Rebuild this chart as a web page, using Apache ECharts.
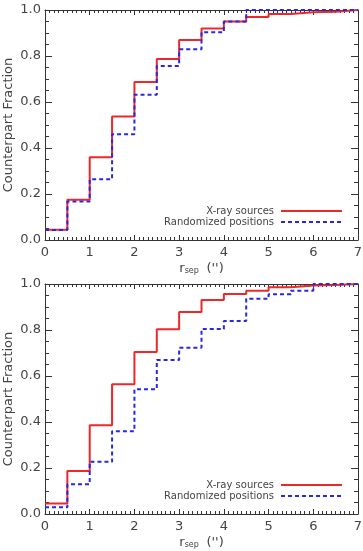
<!DOCTYPE html>
<html>
<head>
<meta charset="utf-8">
<script src="https://cdn.jsdelivr.net/npm/echarts@6/dist/echarts.min.js"></script>
<style>
  html, body { margin: 0; padding: 0; background: #fff; }
  #chart { width: 363px; height: 551px; }
</style>
</head>
<body>
<div id="chart"></div>
<script>
// bin edges in arcsec, each value holds from its edge to the next
var binEdges = [0, 0.5, 1, 1.5, 2, 2.5, 3, 3.5, 4, 4.5, 5, 5.5, 6, 6.5, 7]

// upper panel
var topXray = [0.045, 0.175, 0.36, 0.537, 0.687, 0.787, 0.87, 0.92, 0.95, 0.97, 0.983, 0.99, 0.992, 1.0]
var topRandom = [0.043, 0.167, 0.264, 0.46, 0.632, 0.757, 0.829, 0.903, 0.95, 1.0, 1.0, 1.0, 1.0, 1.0]

// lower panel
var botXray = [0.046, 0.187, 0.386, 0.564, 0.704, 0.803, 0.878, 0.93, 0.957, 0.971, 0.986, 0.993, 0.996, 1.0]
var botRandom = [0.029, 0.129, 0.227, 0.36, 0.542, 0.67, 0.723, 0.804, 0.839, 0.936, 0.955, 0.971, 1.0, 1.0]

var xTicks = [0, 1, 2, 3, 4, 5, 6, 7]
var legendNames = ['X-ray sources', 'Randomized positions']

var FONT = 'DejaVu Sans'
var TEXT = '#444'
var FRAME = '#333'
var RED = 'rgb(238, 40, 40)'
var BLUE = 'rgb(40, 40, 225)'

// step data: last value is repeated at the final edge
function steps(vals) {
  var out = vals.map(function (v, i) { return [binEdges[i], v] })
  out.push([binEdges[binEdges.length - 1], vals[vals.length - 1]])
  return out
}

var chart = echarts.init(document.getElementById('chart'), null, { renderer: 'canvas' })

var grids = [
  { left: 45, top: 10, width: 313, height: 230, outerBoundsMode: 'none', containLabel: false },
  { left: 45, top: 284, width: 313, height: 230, outerBoundsMode: 'none', containLabel: false }
]

var xAxes = []
var yAxes = []
grids.forEach(function (g, i) {
  // bottom x axis with labels
  xAxes.push({
    gridIndex: i, type: 'value', min: 0, max: 7, interval: 1, position: 'bottom',
    axisLine: { show: true, onZero: false, lineStyle: { color: FRAME, width: 1 } },
    axisTick: { show: true, inside: true, length: 5, lineStyle: { color: FRAME } },
    minorTick: { show: true, splitNumber: 10, length: 3, lineStyle: { color: FRAME } },
    splitLine: { show: false },
    axisLabel: { show: true, margin: 6, color: TEXT, fontFamily: FONT, fontSize: 13,
      formatter: function (v) { return xTicks.indexOf(v) >= 0 ? String(v) : '' } },
    name: '{r|r}{s|sep}  {u|(\'\')}',
    nameLocation: 'middle', nameGap: 19, nameMoveOverlap: false,
    nameTextStyle: {
      color: TEXT, fontFamily: FONT,
      rich: {
        r: { fontSize: 13, fontFamily: FONT, color: TEXT, verticalAlign: 'bottom' },
        s: { fontSize: 8, fontFamily: FONT, color: TEXT, padding: [8, 0, 0, 0], verticalAlign: 'bottom' },
        u: { fontSize: 13, fontFamily: FONT, color: TEXT, verticalAlign: 'bottom' }
      }
    }
  })
  // top x axis, frame only
  xAxes.push({
    gridIndex: i, type: 'value', min: 0, max: 7, interval: 1, position: 'top',
    axisLine: { show: true, onZero: false, lineStyle: { color: FRAME, width: 1 } },
    axisTick: { show: true, inside: true, length: 5, lineStyle: { color: FRAME } },
    minorTick: { show: true, splitNumber: 10, length: 3, lineStyle: { color: FRAME } },
    splitLine: { show: false },
    axisLabel: { show: false }
  })
  yAxes.push({
    gridIndex: i, type: 'value', min: 0, max: 1, interval: 0.2, position: 'left',
    axisLine: { show: true, onZero: false, lineStyle: { color: FRAME, width: 1 } },
    axisTick: { show: true, inside: true, length: 7, lineStyle: { color: FRAME } },
    minorTick: { show: true, splitNumber: 4, length: 4, lineStyle: { color: FRAME } },
    splitLine: { show: false },
    axisLabel: { show: true, margin: 4, color: TEXT, fontFamily: FONT, fontSize: 13,
      formatter: function (v) { return v.toFixed(1) } },
    name: 'Counterpart Fraction',
    nameLocation: 'middle', nameGap: 30, nameRotate: 90, nameMoveOverlap: false,
    nameTextStyle: { color: TEXT, fontFamily: FONT, fontSize: 13 }
  })
  yAxes.push({
    gridIndex: i, type: 'value', min: 0, max: 1, interval: 0.2, position: 'right',
    axisLine: { show: true, onZero: false, lineStyle: { color: FRAME, width: 1 } },
    axisTick: { show: true, inside: true, length: 7, lineStyle: { color: FRAME } },
    minorTick: { show: true, splitNumber: 4, length: 4, lineStyle: { color: FRAME } },
    splitLine: { show: false },
    axisLabel: { show: false }
  })
})

function stepSeries(name, vals, panel, color, dashed) {
  return {
    name: name, type: 'line', step: 'end',
    xAxisIndex: panel * 2, yAxisIndex: panel * 2,
    data: steps(vals), showSymbol: false, symbol: 'none',
    silent: true, animation: false,
    lineStyle: { color: color, width: 2, type: dashed ? [4, 3] : 'solid' },
    itemStyle: { color: color }
  }
}

var series = [
  stepSeries(legendNames[0], topXray, 0, RED, false),
  stepSeries(legendNames[1], topRandom, 0, BLUE, true),
  stepSeries(legendNames[0], botXray, 1, RED, false),
  stepSeries(legendNames[1], botRandom, 1, BLUE, true)
]

// legend drawn by hand, lower right inside each panel
function legendBlock(rowY) {
  var items = []
  var styles = [{ stroke: RED, lineWidth: 2 }, { stroke: BLUE, lineWidth: 2, lineDash: [4, 3] }]
  legendNames.forEach(function (n, k) {
    var y = rowY + k * 11
    items.push({
      type: 'text', silent: true,
      style: { text: n, x: 274, y: y, align: 'right', verticalAlign: 'middle',
        fill: TEXT, font: '10px "' + FONT + '"' }
    })
    items.push({
      type: 'line', silent: true,
      shape: { x1: 281, y1: y, x2: 342, y2: y },
      style: styles[k]
    })
  })
  return items
}

chart.setOption({
  backgroundColor: '#fff',
  animation: false,
  grid: grids,
  xAxis: xAxes,
  yAxis: yAxes,
  series: series,
  graphic: { elements: legendBlock(211).concat(legendBlock(485)) }
})
</script>
</body>
</html>
